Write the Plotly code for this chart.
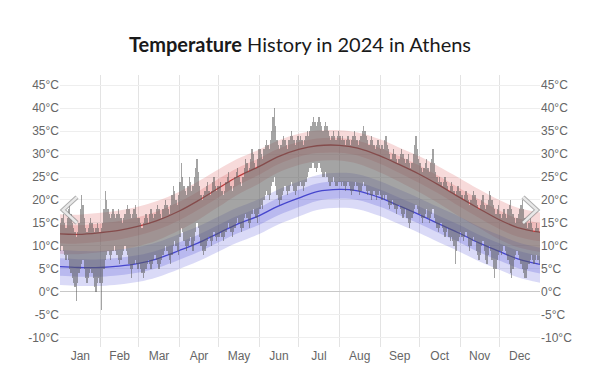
import pandas as pd
import plotly.graph_objects as go

# ---- daily observed highs / lows (°C), 2024, by month ----
jan_hi = [15,16,17,15,14,16,18,19,17,15, 14,13,12,13,15,18,21,19,16,14, 13,14,15,16,15,14,13,14,15,14,13]
jan_lo = [9,10,9,8,7,8,7,5,4,3, 2,1,-2,2,4,5,6,7,5,3, 2,3,4,5,4,3,1,0,2,3,2]
feb_hi = [14,15,18,22,20,18,17,16,17,18, 17,16,17,18,17,16,15,16,17,18, 19,18,17,16,17,18,19,17,16]
feb_lo = [-4,2,5,7,8,9,8,7,8,9, 10,9,8,7,6,7,8,9,10,9, 8,6,5,3,5,6,7,6,5]
mar_hi = [16,15,14,15,16,17,16,15,17,18, 17,16,17,18,19,18,17,16,18,19, 20,19,18,17,19,21,23,22,20,19,21]
mar_lo = [6,5,4,3,4,5,6,7,6,5, 6,7,8,7,6,5,6,7,8,9, 10,9,8,7,6,8,10,11,10,9,8]
apr_hi = [24,28,25,23,22,21,23,25,24,22, 23,25,27,29,26,23,21,20,21,22, 23,24,22,21,22,24,25,23,22,23]
apr_lo = [12,14,13,11,10,9,10,11,12,10, 9,11,13,15,14,12,10,9,8,9, 10,11,12,11,10,11,13,12,11,12]
may_hi = [23,24,22,21,22,24,25,26,24,23, 22,23,25,26,27,25,24,23,25,27, 29,28,26,27,29,31,30,28,27,29,31]
may_lo = [12,13,12,11,12,13,14,15,14,13, 12,13,14,15,16,15,14,13,14,16, 17,16,15,14,15,17,18,17,16,15,17]
jun_hi = [31,30,29,31,32,33,32,31,33,35, 38,40,36,33,32,31,32,33,34,33, 32,31,33,34,35,34,33,32,33,34]
jun_lo = [18,19,18,20,21,22,21,20,21,23, 24,25,23,21,20,19,20,21,22,23, 22,21,22,23,24,23,22,21,22,23]
jul_hi = [33,34,33,32,33,34,35,34,35,36, 37,38,37,36,37,38,37,36,35,36, 37,36,35,34,33,34,35,34,33,34,35]
jul_lo = [23,24,23,22,23,24,25,26,27,27, 28,28,27,26,27,28,27,26,25,25, 26,25,24,23,23,24,25,24,23,23,24]
aug_hi = [34,33,34,33,32,33,34,33,32,33, 34,35,34,33,32,33,34,35,36,35, 34,33,32,33,34,33,32,31,32,33,32]
aug_lo = [24,23,24,23,22,23,24,23,22,21, 22,23,24,23,22,21,22,23,24,23, 22,21,22,21,20,21,22,21,20,21,22]
sep_hi = [31,32,31,33,34,32,31,30,29,30, 31,30,29,28,29,30,31,30,29,28, 29,30,28,27,28,30,32,34,31,29]
sep_lo = [21,20,21,20,21,20,19,18,19,20, 19,18,17,18,19,18,17,16,17,18, 16,15,14,15,16,17,18,19,18,17]
oct_hi = [28,27,26,27,28,29,27,26,28,29, 31,28,26,25,24,25,24,23,24,25, 24,23,22,23,24,23,22,21,22,23,22]
oct_lo = [17,16,15,16,17,18,16,15,16,17, 18,16,15,14,13,14,15,14,13,12, 13,14,12,11,12,11,10,6,9,11,12]
nov_hi = [22,21,20,21,22,21,20,19,20,21, 22,21,20,19,18,19,20,21,19,18, 19,20,22,21,20,19,18,17,18,19]
nov_lo = [13,12,11,12,13,12,10,9,10,11, 12,11,9,8,7,8,10,11,9,7, 6,8,10,9,7,5,3,5,7,8]
dec_hi = [17,16,17,18,17,16,18,19,20,18, 17,16,15,16,17,18,19,20,18,16, 15,14,15,16,15,14,13,14,15,14,13]
dec_lo = [9,8,9,10,9,8,7,6,4,3, 5,7,8,9,8,7,6,5,4,3, 3,5,6,7,8,7,6,7,8,7,6]

# ---- climatological bands (°C) at semi-monthly points ----
band_dates = ["2024-01-01","2024-01-15","2024-02-01","2024-02-15","2024-03-01","2024-03-15",
              "2024-04-01","2024-04-15","2024-05-01","2024-05-15","2024-06-01","2024-06-15",
              "2024-07-01","2024-07-15","2024-08-01","2024-08-15","2024-09-01","2024-09-15",
              "2024-10-01","2024-10-15","2024-11-01","2024-11-15","2024-12-01","2024-12-15","2025-01-01"]
hi_avg = [12.6,12.5,12.9,13.4,14.3,15.5,17.6,19.8,22.6,25.0,27.3,29.4,31.0,31.8,31.9,31.3,29.6,27.8,25.6,23.4,20.5,18.2,15.7,14.0,13.0]
hi_p90 = [16.9,16.8,17.2,17.7,18.6,19.8,21.8,24.0,26.7,28.9,31.0,32.9,34.4,35.1,35.2,34.7,33.2,31.5,29.5,27.4,24.7,22.4,20.0,18.3,17.3]
hi_p75 = [14.6,14.5,14.9,15.4,16.3,17.5,19.6,21.8,24.6,26.9,29.1,31.1,32.6,33.4,33.5,32.9,31.3,29.6,27.5,25.3,22.5,20.2,17.7,16.0,15.0]
hi_p25 = [10.6,10.5,10.9,11.4,12.3,13.5,15.6,17.8,20.6,23.1,25.5,27.7,29.4,30.2,30.3,29.7,27.9,26.0,23.7,21.5,18.5,16.2,13.7,12.0,11.0]
hi_p10 = [8.3,8.2,8.6,9.1,10.0,11.2,13.4,15.6,18.5,21.1,23.6,25.9,27.6,28.5,28.6,27.9,26.0,24.1,21.7,19.4,16.3,14.0,11.4,9.7,8.7]
lo_avg = [5.5,5.3,5.3,5.6,6.2,7.2,9.0,10.6,12.8,14.7,16.6,18.6,20.4,21.8,22.3,22.0,20.5,18.8,16.8,14.9,12.7,10.7,8.8,7.2,6.0]
lo_p90 = [9.1,8.9,8.9,9.2,9.8,10.8,12.6,14.2,16.4,18.3,20.2,22.2,24.0,25.4,25.9,25.6,24.1,22.4,20.4,18.5,16.3,14.3,12.4,10.8,9.6]
lo_p75 = [7.3,7.1,7.1,7.4,8.0,9.0,10.8,12.4,14.6,16.5,18.4,20.4,22.2,23.6,24.1,23.8,22.3,20.6,18.6,16.7,14.5,12.5,10.6,9.0,7.8]
lo_p25 = [3.5,3.3,3.3,3.6,4.2,5.2,7.0,8.6,10.8,12.7,14.6,16.6,18.4,19.8,20.3,20.0,18.5,16.8,14.8,12.9,10.7,8.7,6.8,5.2,4.0]
lo_p10 = [1.5,1.3,1.3,1.6,2.2,3.2,5.0,6.6,8.8,10.7,12.6,14.6,16.4,17.8,18.3,18.0,16.5,14.8,12.8,10.9,8.7,6.7,4.8,3.2,2.0]

y_ticks = [-10, -5, 0, 5, 10, 15, 20, 25, 30, 35, 40, 45]
y_tick_labels = [f"{v}°C" for v in y_ticks]

daily_hi = jan_hi+feb_hi+mar_hi+apr_hi+may_hi+jun_hi+jul_hi+aug_hi+sep_hi+oct_hi+nov_hi+dec_hi
daily_lo = jan_lo+feb_lo+mar_lo+apr_lo+may_lo+jun_lo+jul_lo+aug_lo+sep_lo+oct_lo+nov_lo+dec_lo
days = pd.date_range("2024-01-01", periods=len(daily_hi), freq="D") + pd.Timedelta(hours=12)

fig = go.Figure()

def band(lo, hi, color):
    fig.add_trace(go.Scatter(x=band_dates, y=lo, mode="lines", line=dict(width=0, shape="spline"),
                             hoverinfo="skip", showlegend=False))
    fig.add_trace(go.Scatter(x=band_dates, y=hi, mode="lines", line=dict(width=0, shape="spline"),
                             fill="tonexty", fillcolor=color, hoverinfo="skip", showlegend=False))

band(hi_p10, hi_p90, "rgba(215,70,70,0.2)")
band(hi_p25, hi_p75, "rgba(215,70,70,0.2)")
band(lo_p10, lo_p90, "rgba(70,70,215,0.2)")
band(lo_p25, lo_p75, "rgba(70,70,215,0.22)")

fig.add_trace(go.Scatter(x=band_dates, y=hi_avg, mode="lines",
                         line=dict(color="rgb(185,60,60)", width=1.3, shape="spline"), showlegend=False))
fig.add_trace(go.Scatter(x=band_dates, y=lo_avg, mode="lines",
                         line=dict(color="rgb(70,70,205)", width=1.3, shape="spline"), showlegend=False))

# daily bars drawn on the overlaid (right) axis so they sit above the bands
fig.add_trace(go.Bar(x=days, y=[h - l for h, l in zip(daily_hi, daily_lo)], base=daily_lo,
                     yaxis="y2", width=86400000,
                     marker=dict(color="rgba(90,90,90,0.55)", line=dict(width=0)),
                     showlegend=False))

tick_font = dict(family="Liberation Sans, Arial, sans-serif", size=12, color="#666")

# page body adds an 8px offset; margins compensate so plot area sits at x 60-540, y 75-347
fig.update_layout(
    width=600, height=385,
    margin=dict(l=52, r=68, t=67, b=46),
    paper_bgcolor="white", plot_bgcolor="white",
    bargap=0,
    title=dict(text="<b>Temperature</b> History in 2024 in Athens",
               x=(300 - 8) / 600, xanchor="center", y=1 - 37/385, yanchor="middle", yref="container",
               font=dict(family="Lato, Open Sans, sans-serif", size=20, color="#1a1a1a")),
    xaxis=dict(type="date", range=["2024-01-01", "2025-01-01"], dtick="M1", tick0="2024-01-01",
               tickformat="%b", ticklabelmode="period", showgrid=True, gridcolor="#e3e3e3",
               gridwidth=1, ticks="", showline=False, zeroline=False, tickfont=tick_font),
    yaxis=dict(range=[-12, 47.2], tickmode="array", tickvals=y_ticks, ticktext=y_tick_labels,
               showgrid=True, gridcolor="#eeeeee", zeroline=True, zerolinecolor="#c8c8c8",
               zerolinewidth=1.2, ticks="", showline=False, tickfont=tick_font),
    yaxis2=dict(range=[-12, 47.2], tickmode="array", tickvals=y_ticks, ticktext=y_tick_labels,
                overlaying="y", side="right", showgrid=False, zeroline=False, ticks="",
                showline=False, tickfont=tick_font),
)

# navigation chevrons
for path in ["M 0.0354 0.551 L 0.0063 0.504 L 0.0354 0.456",
             "M 0.9646 0.551 L 0.9937 0.504 L 0.9646 0.456"]:
    fig.add_shape(type="path", path=path, xref="paper", yref="paper",
                  line=dict(color="rgba(140,140,140,0.7)", width=4.5))
    fig.add_shape(type="path", path=path, xref="paper", yref="paper",
                  line=dict(color="rgba(232,232,232,1)", width=2.5))

fig.write_html("out.html")
